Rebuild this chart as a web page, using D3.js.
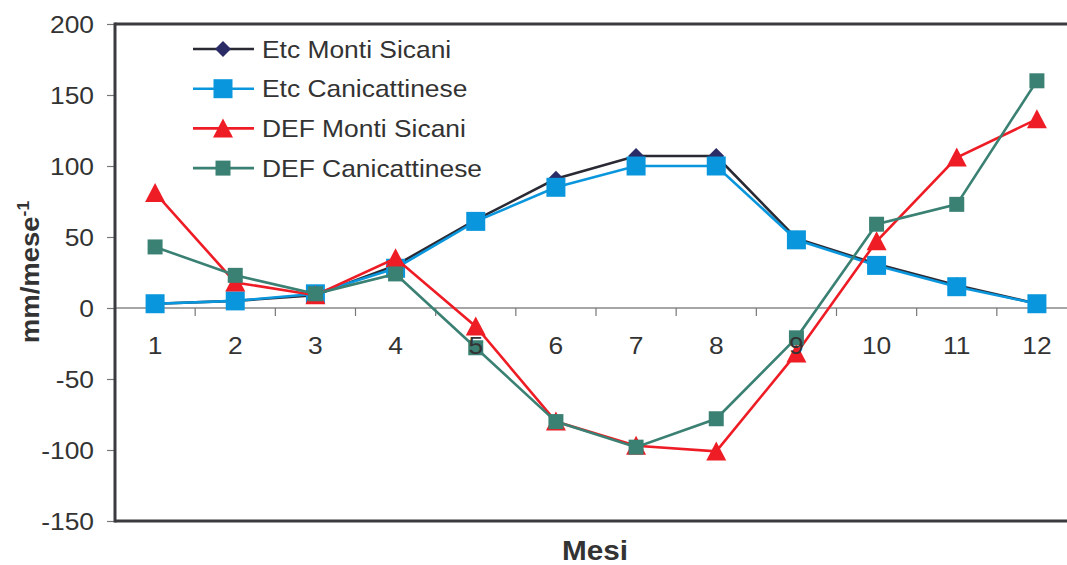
<!DOCTYPE html>
<html><head><meta charset="utf-8">
<script src="https://cdn.jsdelivr.net/npm/d3@7"></script>
<style>body{margin:0;background:#fff;} svg{display:block;font-family:"Liberation Sans",Arial,sans-serif;}</style>
</head><body>
<svg id="c" width="1067" height="565"></svg>
<script>
const months = ["1","2","3","4","5","6","7","8","9","10","11","12"];
const etcMontiSicani = [3, 5, 9, 30, 62, 91, 107, 107, 49, 31, 16, 3];
const etcCanicattinese = [3, 5, 10, 28, 61, 85, 100, 100, 48, 30, 15, 3];
const defMontiSicani = [81, 18, 9, 35, -13, -80, -97, -101, -32, 47, 106, 133];
const defCanicattinese = [43, 23, 10, 24, -28, -80, -98, -78, -21, 59, 73, 160];
const yTicks = [200, 150, 100, 50, 0, -50, -100, -150];

const series = [
  {name: "Etc Monti Sicani", values: etcMontiSicani, line: "#2a2a35", fill: "#2b2b66", shape: "diamond", size: 16},
  {name: "Etc Canicattinese", values: etcCanicattinese, line: "#0a96dc", fill: "#0a96dc", shape: "square", size: 19},
  {name: "DEF Monti Sicani", values: defMontiSicani, line: "#ee1c25", fill: "#ee1c25", shape: "triangle", size: 18},
  {name: "DEF Canicattinese", values: defCanicattinese, line: "#3a8073", fill: "#3a8073", shape: "square", size: 15}
];

const svg = d3.select("#c");
const L = 115, R = 1077, T = 24, B = 521;
const x = d3.scaleBand().domain(months).range([L, R]);
const y = d3.scaleLinear().domain([-150, 200]).range([B, T]);
const axisCol = "#3a3a3f";
const textCol = "#333";
const SX = 1.1;

const ya = d3.axisLeft(y).tickValues(yTicks).tickSize(8).tickFormat("");
const gy = svg.append("g").attr("transform", `translate(${L},0)`).call(ya);
gy.select(".domain").remove();
gy.selectAll(".tick line").attr("stroke", "#777").attr("stroke-width", 1.2);
svg.append("g").selectAll("text").data(yTicks).enter().append("text")
  .attr("transform", d => `translate(94,${y(d) + 8.5}) scale(${SX},1)`)
  .attr("text-anchor", "end").attr("font-size", 24).attr("fill", textCol)
  .text(d => String(d));

svg.append("line").attr("x1", L).attr("x2", R).attr("y1", y(0)).attr("y2", y(0)).attr("stroke", "#888").attr("stroke-width", 1.3);
svg.selectAll(".xt").data(months.slice(1)).enter().append("line")
  .attr("x1", d => x(d)).attr("x2", d => x(d)).attr("y1", y(0)).attr("y2", y(0) + 8)
  .attr("stroke", "#777").attr("stroke-width", 1.2);

svg.append("line").attr("x1", L).attr("x2", R).attr("y1", T).attr("y2", T).attr("stroke", axisCol).attr("stroke-width", 3);
svg.append("line").attr("x1", L).attr("x2", R).attr("y1", B).attr("y2", B).attr("stroke", axisCol).attr("stroke-width", 3);
svg.append("line").attr("x1", L).attr("x2", L).attr("y1", T - 1.5).attr("y2", B + 1.5).attr("stroke", axisCol).attr("stroke-width", 3);

function symPath(shape, s) {
  if (shape === "square") return `M${-s/2},${-s/2}h${s}v${s}h${-s}Z`;
  if (shape === "diamond") return `M0,${-s/2}L${s/2},0L0,${s/2}L${-s/2},0Z`;
  if (shape === "triangle") return `M0,${-s/2 - 1}L${s/2 + 1},${s/2}L${-s/2 - 1},${s/2}Z`;
}

const cx = d => x(d) + x.bandwidth() / 2;
series.forEach(s => {
  const line = d3.line().x((v, i) => cx(months[i])).y(v => y(v));
  svg.append("path").attr("d", line(s.values)).attr("fill", "none").attr("stroke", s.line).attr("stroke-width", 2.6);
  svg.append("g").selectAll("path").data(s.values).enter().append("path")
    .attr("transform", (v, i) => `translate(${cx(months[i])},${y(v)})`)
    .attr("d", symPath(s.shape, s.size)).attr("fill", s.fill);
});

svg.append("g").selectAll("text").data(months).enter().append("text")
  .attr("transform", d => `translate(${cx(d)},${y(0) + 46}) scale(${SX},1)`)
  .attr("text-anchor", "middle").attr("font-size", 24).attr("fill", textCol)
  .text(d => d);

const lg = svg.append("g");
series.forEach((s, i) => {
  const yy = 49 + i * 39.7;
  lg.append("line").attr("x1", 193).attr("x2", 254).attr("y1", yy).attr("y2", yy).attr("stroke", s.line).attr("stroke-width", 2.6);
  lg.append("path").attr("transform", `translate(223,${yy})`).attr("d", symPath(s.shape, s.size)).attr("fill", s.fill);
  lg.append("text").attr("transform", `translate(262,${yy + 8.5}) scale(${SX},1)`)
    .attr("font-size", 24).attr("fill", textCol).text(s.name);
});

svg.append("text").attr("transform", `translate(595,560) scale(${SX},1)`).attr("text-anchor", "middle")
  .attr("font-size", 27).attr("font-weight", "bold").attr("fill", textCol).text("Mesi");
const yt = svg.append("text").attr("transform", `translate(39,272) rotate(-90) scale(${SX},1)`).attr("text-anchor", "middle")
  .attr("font-size", 25).attr("font-weight", "bold").attr("fill", textCol);
yt.append("tspan").text("mm/mese");
yt.append("tspan").attr("dy", -10).attr("font-size", 16).text("-1");
</script>
</body></html>
